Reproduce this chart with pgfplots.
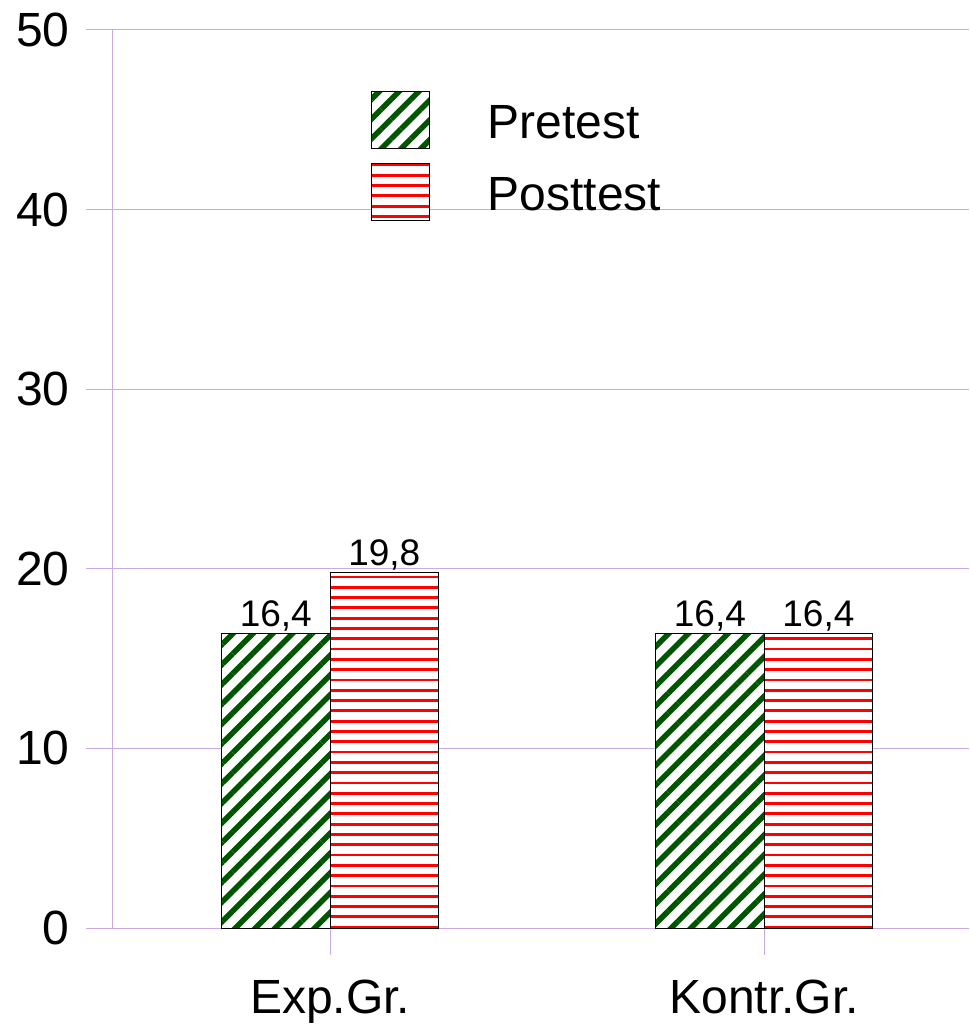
\documentclass[border=0pt]{standalone}
\usepackage{pgfplots}
\pgfplotsset{compat=1.18}
\usetikzlibrary{patterns,patterns.meta}
\usepackage{fontspec}
\setmainfont{Liberation Sans}
\definecolor{gridpurple}{RGB}{200,170,235}
\definecolor{dgreen}{RGB}{0,85,0}
\definecolor{bred}{RGB}{255,0,0}
\pgfdeclarepatternformonly{redh}{\pgfpoint{-2pt}{-2pt}}{\pgfpoint{12.3pt}{12.3pt}}{\pgfpoint{10.3pt}{10.3pt}}{%
  \pgfsetlinewidth{2.8pt}\pgfpathmoveto{\pgfpoint{-2pt}{5.15pt}}\pgfpathlineto{\pgfpoint{12.3pt}{5.15pt}}\pgfusepath{stroke}}
\pgfplotsset{boxlegend/.style={legend image code/.code={\draw[##1, draw=black, line width=0.8pt] (0pt,-10pt) rectangle (58pt,47pt); \path (114pt,0pt);}}}
\begin{document}
\begin{tikzpicture}
\begin{axis}[
  name=ax,
  scale only axis, width=856pt, height=898pt,
  ymin=0, ymax=50, ytick={0,10,...,50},
  xmin=-0.5, xmax=1.472,
  xtick={0,1}, xticklabels={Exp.Gr., Kontr.Gr.},
  axis x line=bottom, axis y line=left,
  axis line style={-, draw=gridpurple, line width=1pt},
  ymajorgrids, grid style={draw=gridpurple, line width=1pt},
  tick align=outside, major tick length=27pt,
  tick style={draw=gridpurple, line width=1pt},
  tick label style={font=\fontsize{48}{58}\selectfont},
  y tick label style={xshift=-13pt},
  x tick label style={inner sep=0pt, yshift=-25pt, text depth=8pt},
  /pgf/number format/assume math mode=true,
  ybar, bar width=0.25,
  nodes near coords={\pgfmathprintnumber[use comma,fixed,fixed zerofill,precision=1,assume math mode=true]{\pgfplotspointmeta}},
  nodes near coords style={font=\fontsize{37}{44}\selectfont, inner sep=2pt, text=black},
  legend style={draw=none, fill=none, at={(0.3014,0.932)}, anchor=north west,
    inner sep=0pt, outer sep=0pt, row sep=14pt, font=\fontsize{48}{58}\selectfont, cells={anchor=base west}},
]
\addplot[fill=white, draw=black, line width=0.8pt, bar shift=-0.125,
  postaction={pattern={Lines[angle=45,distance=14pt,line width=5.5pt]}, pattern color=dgreen},
  boxlegend]
  coordinates {(0,16.4) (1,16.4)};
\addplot[fill=white, draw=black, line width=0.8pt, bar shift=0.125,
  postaction={pattern=redh, pattern color=bred},
  boxlegend]
  coordinates {(0,19.8) (1,16.4)};
\legend{Pretest, Posttest}
\end{axis}
\pgfresetboundingbox
\path ([shift={(-113pt,-97pt)}]ax.south west) rectangle ([shift={(0pt,30pt)}]ax.north east);
\end{tikzpicture}
\end{document}
